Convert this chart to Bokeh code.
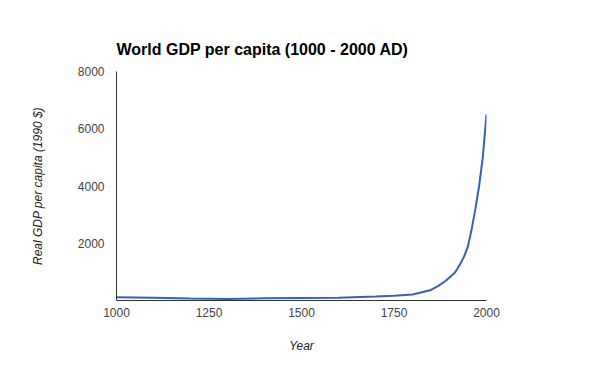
from bokeh.plotting import figure
from bokeh.models import Range1d, FixedTicker
from bokeh.embed import file_html
from bokeh.resources import INLINE

years = [1000, 1100, 1200, 1300, 1400, 1500, 1600, 1700, 1750, 1800, 1820, 1850,
         1870, 1890, 1913, 1920, 1930, 1940, 1950, 1960, 1970, 1980, 1990, 2000]
gdp = [110, 95, 70, 50, 80, 90, 100, 140, 165, 210, 270, 370,
       510, 690, 950, 1080, 1300, 1550, 1900, 2500, 3200, 4000, 5000, 6500]
x_ticks = [1000, 1250, 1500, 1750, 2000]
y_ticks = [2000, 4000, 6000, 8000]

FONT = "Liberation Sans"

p = figure(width=584, height=355, output_backend="svg", toolbar_location=None,
           x_range=Range1d(1000, 2000), y_range=Range1d(0, 8000),
           min_border_left=116, min_border_right=98, min_border_top=71, min_border_bottom=55,
           title="World GDP per capita (1000 - 2000 AD)")
p.title.text_font = FONT
p.title.text_font_size = "16px"
p.title.text_font_style = "bold"
p.title.text_color = "#000000"
p.title.standoff = 27

p.line(years, gdp, line_color="#3A5FB8", line_width=2)

p.grid.visible = False
p.outline_line_color = None

for ax in (p.xaxis[0], p.yaxis[0]):
    ax.major_tick_line_color = None
    ax.minor_tick_line_color = None
    ax.axis_line_color = "#333333"
    ax.major_label_text_font = FONT
    ax.major_label_text_font_size = "12px"
    ax.major_label_text_color = "#444444"
    ax.axis_label_text_font = FONT
    ax.axis_label_text_font_size = "12px"
    ax.axis_label_text_font_style = "italic"
    ax.axis_label_text_color = "#222222"

p.xaxis.ticker = FixedTicker(ticks=x_ticks)
p.yaxis.ticker = FixedTicker(ticks=y_ticks)
p.xaxis.major_label_standoff = 1
p.yaxis.major_label_standoff = 6
p.xaxis.axis_label = "Year"
p.yaxis.axis_label = "Real GDP per capita (1990 $)"
p.xaxis.axis_label_standoff = 19
p.yaxis.axis_label_standoff = 30

open("out.html", "w").write(file_html(p, INLINE))
